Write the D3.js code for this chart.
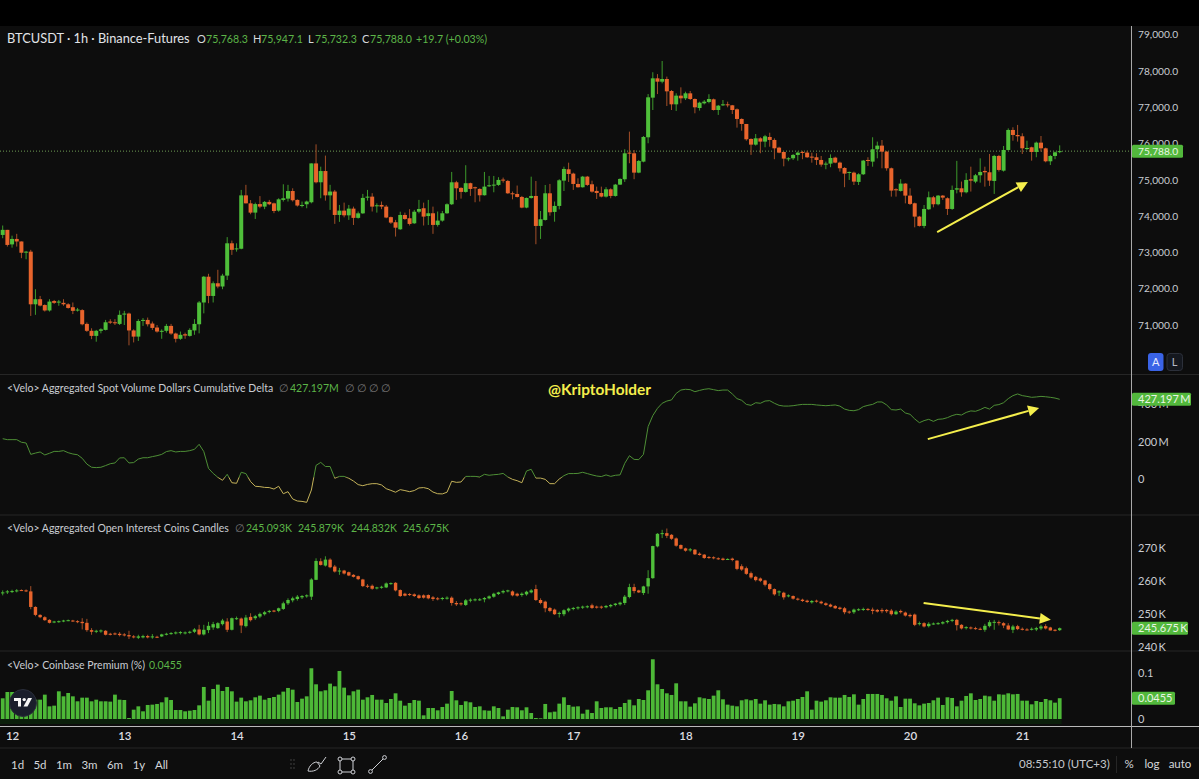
<!DOCTYPE html>
<html>
<head>
<meta charset="utf-8">
<script src="https://cdn.jsdelivr.net/npm/d3@7"></script>
<style>
  html, body { margin: 0; padding: 0; background: #000; overflow: hidden; }
  svg { display: block; }
  text { font-family: Lato, "Noto Sans", sans-serif; }
</style>
</head>
<body>
<svg id="chart" width="1199" height="779"></svg>
<script>
// BTCUSDT 1h candles, hour 0 is the candle left of the "12" date
const priceOpen = [
  73480,73620,73220,73370,73300,73000,73020,71570,71710,71550,
  71400,71660,71620,71610,71570,71490,71410,71410,71030,70840,
  70700,70840,70865,71095,71075,71030,71290,71315,70850,70680,
  71120,71140,71040,70930,70820,70840,70975,70765,70620,70745,
  70700,70850,71020,71620,72330,71800,72150,72060,72360,73250,
  73085,73100,74570,74350,74095,74330,74260,74390,74350,74150,
  74445,74480,74690,74445,74280,74325,74380,75450,74930,75240,
  74570,74675,74030,74150,74020,74205,73950,74075,74507,74535,
  74280,74306,74260,73970,73830,73636,74030,73940,73800,74120,
  74215,74000,74077,73756,73875,74077,74325,74930,74775,74665,
  74905,74793,74747,74573,74820,74838,74857,75004,74967,74627,
  74609,74526,74233,74499,74554,73728,73893,74627,74114,74279,
  74976,75288,75169,74884,74793,75086,74875,74692,74636,74536,
  74737,74554,74866,75013,75747,75728,75196,75499,76169,77261,
  77793,77701,77775,77444,77077,77316,77242,77380,77224,76976,
  77105,77142,77215,76921,77059,77077,77050,76940,76674,76536,
  76123,75967,76141,76050,76178,76096,75884,75765,75573,75591,
  75683,75765,75747,75637,75619,75545,75426,75444,75609,75472,
  75325,75196,75196,74940,75151,75545,75499,75839,75940,75774,
  75316,74738,74692,74894,74563,74352,73985,73728,74187,74517,
  74325,74563,74490,74196,74728,74765,74655,75013,74949,75123,
  75242,75206,74967,75655,75251,75820,76371,76233,76197,75848,
  75894,75765,76022,75866,75508,75655,75768.3
];
const priceHigh = [
  73740,73620,73460,73510,73300,73040,73070,71985,71800,71570,
  71710,71690,71690,71710,71600,71620,71470,71435,71070,70910,
  70865,70910,71140,71160,71160,71400,71390,71340,70880,71160,
  71190,71205,71095,71000,70880,71030,71030,70790,70820,70790,
  70910,71160,71660,72350,72410,72200,72520,72410,73420,73325,
  73250,74720,74860,74440,74370,74550,74415,74445,74370,74490,
  74875,74860,74765,74460,74400,74425,75450,75975,75360,75665,
  74860,74720,74306,74370,74306,74260,74125,74610,74720,74630,
  74350,74400,74306,73985,73895,74120,74095,74190,74170,74445,
  74370,74445,74260,74125,74140,74350,75215,74970,74795,75400,
  74920,74810,74765,75215,75105,75105,75070,75060,74995,74675,
  74840,74555,74510,75085,74965,74140,74855,74885,74400,75015,
  75360,75470,75195,75040,75105,75105,74975,74810,74810,74795,
  74765,74885,75040,75840,76325,75820,75545,76205,77360,77960,
  77910,78270,77840,77470,77380,77545,77425,77445,77240,77150,
  77195,77355,77235,77060,77195,77150,77060,76965,76690,76536,
  76140,76260,76170,76235,76295,76140,75910,75775,75620,75710,
  75775,75795,75800,75745,75730,75655,75500,75700,75635,75500,
  75345,75225,75225,75180,75545,75620,76170,76050,76095,75795,
  75335,74765,75015,74905,74765,74370,74005,74305,74675,74555,
  74580,74580,74515,74840,75520,74950,75180,75360,75160,75590,
  75360,75710,75685,75685,75930,76415,76445,76510,76280,76075,
  75910,76050,76205,75885,75685,75775,75947.1
];
const priceLow = [
  73390,73160,73130,73160,72840,72810,71250,71280,71510,71370,
  71370,71580,71530,71530,71450,71300,71370,70990,70810,70610,
  70540,70770,70850,71030,71000,71000,71000,70440,70520,70560,
  70975,70960,70865,70790,70620,70790,70730,70520,70590,70620,
  70680,70730,70770,71320,71600,71620,72010,71985,72240,72930,
  73020,73085,74350,74050,73920,74215,74190,74300,74080,74120,
  74400,74400,74400,74260,74240,74215,74350,74900,74490,74425,
  74170,73785,73840,73965,73895,73755,73930,74060,74425,74125,
  74095,74190,73940,73785,73435,73620,73895,73740,73785,74075,
  73740,73755,73510,73710,73845,74060,74305,74445,74480,74645,
  74555,74380,74400,74565,74800,74655,74830,74920,74610,74460,
  74510,74215,74215,74480,73225,73370,73875,74010,73845,74185,
  74690,74940,74720,74785,74785,74830,74645,74470,74515,74510,
  74490,74535,74855,74940,75455,75015,75180,75480,76005,76920,
  77360,77655,77030,76920,76895,77105,77195,77195,76830,76905,
  77075,77105,76905,76785,77030,76995,76810,76435,76350,76075,
  75685,75940,75730,75895,75910,75565,75730,75370,75510,75545,
  75525,75565,75600,75470,75405,75360,75290,75345,75455,75225,
  74795,74995,74855,74855,75130,75380,75360,75590,75315,75250,
  74535,74535,74675,74350,74305,73690,73710,73665,74170,74240,
  74295,74445,74030,74170,74625,74535,74625,74675,74905,74920,
  74810,74830,74610,75225,75225,75800,76075,76050,75710,75820,
  75525,75620,75775,75480,75405,75565,75732.3
];
const priceClose = [
  73620,73205,73370,73300,72990,73020,71570,71710,71535,71400,
  71645,71610,71645,71570,71470,71390,71425,71020,70840,70700,
  70840,70880,71075,71065,71050,71280,71315,70850,70680,71110,
  71140,71020,70920,70820,70840,70975,70765,70620,70730,70710,
  70865,71030,71620,72330,71800,72150,72060,72360,73250,73070,
  73110,74570,74350,74095,74330,74260,74390,74325,74140,74460,
  74490,74690,74435,74290,74306,74400,75450,74930,75240,74570,
  74675,74030,74150,74020,74205,73950,74075,74500,74535,74260,
  74297,74260,73960,73820,73680,74030,73920,73783,74120,74195,
  73985,74077,73756,73875,74077,74325,74930,74765,74665,74905,
  74747,74765,74573,74811,74848,74866,74995,74985,74627,74600,
  74526,74233,74499,74554,73728,73912,74627,74104,74279,74985,
  75297,75159,74884,74793,75086,74857,74673,74636,74536,74737,
  74554,74866,75022,75728,75728,75196,75517,76178,77270,77793,
  77701,77775,77435,77077,77316,77242,77380,77224,76995,77123,
  77151,77224,76921,77040,77077,77050,76921,76674,76536,76114,
  75967,76141,76050,76196,76096,75866,75747,75582,75591,75683,
  75747,75747,75619,75609,75545,75417,75444,75600,75472,75316,
  75169,75215,74949,75151,75527,75518,75839,75940,75774,75316,
  74701,74710,74894,74563,74334,73985,73728,74196,74517,74325,
  74563,74508,74196,74719,74765,74655,74995,74976,75123,75215,
  75206,74976,75655,75270,75820,76371,76233,76197,75866,75875,
  75765,76022,75866,75508,75655,75756,75788
];

// Spot volume cumulative delta, millions of dollars
const deltaValues = [
  216,211,211,211,197,193,132,139,145,129,
  138,148,148,152,141,134,130,111,80,63,
  61,63,72,82,86,113,114,86,88,107,
  114,114,120,125,132,147,152,145,148,148,
  152,159,186,147,57,30,9,-7,25,-20,
  -23,36,29,-14,-39,-41,-45,-46,-54,-39,
  -79,-68,-107,-118,-120,-125,-59,73,89,67,
  67,4,14,14,4,-11,-30,-36,-29,-25,
  -25,-32,-52,-61,-71,-57,-62,-68,-62,-48,
  -46,-52,-70,-79,-80,-71,-12,-18,-16,14,
  14,14,11,25,20,23,25,30,11,-2,
  -9,-20,43,52,5,5,-2,-25,-25,0,
  18,29,29,30,36,29,22,16,
  13,22,14,20,22,84,125,105,104,132,
  281,340,379,406,418,424,459,477,481,479,
  468,475,481,484,479,474,477,477,456,431,
  422,400,395,409,406,418,420,406,395,391,
  391,393,397,400,400,400,397,395,393,395,
  397,391,375,368,366,372,388,395,400,413,
  413,397,372,370,375,354,347,322,302,313,
  320,309,320,322,329,340,347,343,357,365,
  363,372,384,375,395,399,409,431,447,456,
  447,443,438,440,443,441,438,434,427.197
];

// Open interest candles, thousands of coins
const oiOpen = [
  256.3,256.6,256.7,256.9,257.2,257.1,256.8,252.1,249.7,249.0,
  248.2,247.5,247.6,247.8,248.0,248.0,247.8,247.6,247.3,245.1,
  244.6,244.7,244.9,244.0,244.1,244.0,243.8,243.6,243.2,242.8,
  242.9,243.3,243.0,243.1,243.2,243.8,244.0,244.2,244.3,244.2,
  244.4,244.6,245.3,243.8,245.1,245.9,245.7,246.9,247.7,245.2,
  248.5,248.6,246.3,249.1,248.7,249.2,249.9,250.6,251.0,250.9,
  251.5,253.2,254.1,254.5,255.0,255.4,255.2,260.3,265.9,264.6,
  266.4,264.3,262.8,263.1,262.6,261.8,261.4,260.4,258.5,258.5,
  257.7,257.9,258.0,259.1,259.4,257.2,256.1,256.0,255.9,255.6,
  255.6,255.7,255.0,254.7,254.6,254.7,254.9,253.3,253.2,252.7,
  254.0,254.1,254.2,254.4,254.7,255.2,256.0,256.5,256.8,256.8,
  256.1,255.7,255.9,256.5,257.5,254.2,253.7,251.8,251.3,250.0,
  249.9,251.0,251.5,251.7,251.9,252.1,252.6,252.2,252.2,252.0,
  252.3,252.7,252.9,253.3,255.1,258.1,257.1,256.3,258.3,260.8,
  270.4,274.1,274.4,273.9,272.8,270.8,269.8,269.2,269.4,268.2,
  267.9,267.2,267.1,266.8,266.7,266.4,266.7,266.1,264.4,263.8,
  262.3,261.2,260.7,260.1,259.0,257.5,256.5,256.4,255.3,255.4,
  254.6,254.3,254.0,253.5,254.0,253.7,253.2,252.8,252.4,251.9,
  251.7,250.7,250.5,251.2,251.3,251.5,251.3,251.2,251.2,251.2,
  251.0,249.9,250.9,250.4,249.7,249.8,246.9,247.2,246.3,246.9,
  247.0,247.1,247.5,247.9,248.2,246.7,245.7,245.9,245.7,245.5,
  245.2,246.3,247.4,247.5,247.2,246.5,245.2,246.3,245.5,245.3,
  245.2,245.3,245.6,246.3,245.9,245.2,245.093
];
const oiHigh = [
  257.1,257.2,257.3,257.5,257.4,257.4,258.4,252.3,249.9,249.3,
  248.4,247.9,248.0,248.2,248.3,248.2,248.1,248.7,248.5,245.7,
  245.2,245.3,245.1,244.3,244.4,244.5,244.2,244.9,243.6,243.7,
  243.7,243.7,243.9,243.4,244.0,244.3,244.5,244.7,244.8,244.7,
  244.9,245.7,246.7,246.7,247.6,247.6,247.5,248.5,248.7,248.9,
  249.2,248.9,249.7,250.2,249.7,250.4,250.9,251.2,251.2,251.9,
  253.7,254.7,255.2,255.7,255.7,255.9,260.8,266.8,266.8,267.4,
  266.8,264.8,263.9,263.3,262.8,262.0,261.6,260.6,259.0,258.9,
  258.2,258.5,259.5,259.5,259.6,257.4,256.4,256.3,256.2,255.9,
  255.9,255.9,255.4,255.1,255.1,255.3,255.3,253.9,253.5,254.5,
  254.7,254.7,254.8,255.1,255.6,256.4,256.7,257.3,257.3,257.1,
  256.4,256.5,257.0,257.5,258.8,254.7,254.0,252.1,251.6,250.7,
  251.4,251.9,252.1,252.3,252.5,252.6,253.1,252.5,252.5,252.7,
  253.0,253.3,253.7,255.7,259.1,259.1,257.3,258.5,263.2,270.6,
  274.4,275.4,275.8,274.1,273.1,271.0,270.0,269.9,269.6,268.6,
  268.1,267.5,267.4,267.1,267.0,266.8,267.0,266.2,265.0,264.3,
  262.8,261.5,261.0,260.3,259.3,257.7,257.1,256.7,255.9,255.6,
  254.9,254.6,254.3,254.2,254.3,254.0,253.5,253.1,252.7,252.2,
  252.1,251.0,251.6,251.7,251.9,251.8,251.9,251.5,251.7,251.5,
  251.5,251.1,251.3,250.7,250.1,250.1,247.7,247.5,247.5,247.4,
  247.5,247.8,248.2,248.5,248.5,246.9,246.3,246.2,246.1,245.9,
  247.0,248.1,248.2,248.0,247.5,247.2,246.7,246.7,245.9,245.7,
  245.9,246.1,246.7,246.9,246.1,245.4,245.879
];
const oiLow = [
  255.6,256.0,256.3,256.5,256.9,256.6,251.4,249.3,248.7,247.9,
  247.1,247.2,247.3,247.5,247.8,247.6,247.2,245.3,244.6,243.7,
  244.2,244.3,243.5,243.5,243.6,243.2,243.2,242.4,242.6,242.4,
  242.6,242.6,242.5,242.7,243.0,243.5,243.7,243.8,243.8,243.8,
  244.0,244.2,243.5,243.5,244.2,245.2,245.5,246.5,244.5,245.0,
  248.2,244.2,245.9,247.7,248.2,248.7,249.5,250.2,250.5,250.5,
  251.2,252.7,253.5,254.0,254.5,254.9,254.2,260.2,264.6,264.3,
  263.8,262.5,261.8,261.9,261.4,261.0,260.2,258.1,257.8,257.3,
  257.4,257.6,257.8,258.8,256.8,255.1,255.3,255.4,255.1,254.5,
  254.6,254.4,253.9,254.1,254.1,254.3,252.5,252.4,252.5,252.4,
  253.5,253.8,253.9,253.5,254.4,254.9,255.7,256.1,256.5,255.3,
  255.2,255.2,255.5,256.2,253.9,252.9,250.5,250.5,249.7,248.9,
  249.3,250.5,251.1,251.3,251.5,251.7,251.5,251.6,251.5,251.7,
  251.9,252.3,252.5,252.7,254.7,256.2,256.3,255.7,256.1,260.6,
  270.1,272.9,272.9,272.4,270.3,269.5,268.8,268.8,267.8,267.6,
  266.6,266.6,266.5,266.3,266.1,266.3,265.9,263.2,263.0,261.8,
  260.6,259.8,259.6,258.3,257.1,255.5,255.4,254.3,255.0,254.3,
  254.0,253.6,253.3,253.1,253.4,252.9,252.4,252.0,251.5,251.2,
  249.9,250.0,250.0,250.9,250.9,250.9,249.9,250.4,250.2,250.3,
  249.5,249.7,250.1,249.2,248.9,246.3,246.5,245.9,245.9,246.7,
  246.7,246.8,247.1,247.5,245.0,245.3,245.3,245.3,245.2,245.1,
  244.6,245.9,245.2,246.5,245.7,245.1,244.2,245.1,245.0,245.0,
  245.0,244.8,245.1,245.3,245.0,244.7,244.832
];
const oiClose = [
  256.5,256.8,256.9,257.1,257.0,256.8,252.1,249.7,249.0,248.1,
  247.3,247.7,247.8,248.0,248.1,247.8,247.5,247.2,245.1,244.6,
  244.9,245.0,243.7,243.7,243.8,243.6,243.5,243.2,242.9,243.2,
  243.3,242.9,243.2,242.9,243.8,244.0,244.2,244.4,244.5,244.4,
  244.6,245.3,243.8,245.2,246.4,246.9,247.2,248.0,245.2,248.7,
  248.7,246.5,248.9,248.1,249.3,250.0,250.5,250.9,250.8,251.7,
  253.2,254.2,254.7,255.2,255.4,255.6,260.4,266.0,264.8,266.4,
  264.1,262.8,263.1,262.2,261.6,261.2,260.5,258.4,258.2,257.6,
  258.0,258.2,259.2,259.3,257.1,255.4,255.5,255.7,255.4,254.8,
  254.9,254.7,254.5,254.5,254.8,254.9,253.3,252.9,252.9,254.1,
  254.3,254.4,254.4,254.8,255.3,256.1,256.5,256.9,257.1,255.6,
  255.5,256.1,256.7,257.1,254.2,253.3,251.7,250.9,249.9,250.3,
  251.1,251.6,251.8,252.0,252.2,252.3,251.8,251.9,251.9,252.4,
  252.7,253.1,253.4,255.2,258.1,256.9,256.5,258.3,260.8,270.5,
  274.2,274.4,273.6,272.7,270.6,269.7,269.1,269.5,268.0,267.8,
  266.9,266.9,266.8,266.5,266.3,266.6,266.3,263.6,263.4,262.1,
  261.0,260.2,260.0,258.8,257.5,255.9,256.8,255.0,255.6,254.6,
  254.3,253.9,253.6,253.9,253.7,253.2,252.7,252.2,251.7,251.5,
  250.5,250.4,251.3,251.4,251.5,251.2,250.9,250.7,250.8,250.8,
  249.9,250.7,250.5,249.5,249.3,246.7,247.2,246.2,247.0,247.1,
  247.2,247.5,247.9,248.2,246.6,245.6,246.0,245.6,245.4,245.3,
  246.4,247.5,247.6,247.2,246.5,245.3,246.2,245.4,245.2,245.1,
  245.5,245.7,246.2,245.6,245.0,244.9,245.675
];

// Coinbase premium, percent
const premiumValues = [
  .0453,.0591,.0591,.0496,.0496,.0438,.0423,.0423,.0423,.0533,
  .0277,.0292,.0606,.0496,.0569,.0496,.0387,.0467,.0467,.0387,
  .0423,.0387,.0387,.0380,.0533,.0423,.0416,.0022,.0204,.0277,
  .0168,.0307,.0314,.0329,.0365,.0475,.0416,.0197,.0197,.0168,
  .0182,.0197,.0299,.0701,.0401,.0657,.0752,.0613,.0701,.0606,
  .0380,.0467,.0387,.0409,.0475,.0511,.0423,.0460,.0482,.0533,
  .0599,.0679,.0642,.0372,.0445,.0496,.1110,.0759,.0606,.0628,
  .0774,.0715,.1051,.0686,.0518,.0606,.0642,.0423,.0475,.0526,
  .0423,.0423,.0350,.0438,.0562,.0401,.0292,.0350,.0416,.0401,
  .0080,.0241,.0241,.0190,.0263,.0336,.0613,.0409,.0307,.0387,
  .0365,.0263,.0277,.0190,.0182,.0277,.0241,.0058,.0204,.0263,
  .0256,.0190,.0256,.0131,.0022,.0015,.0329,.0146,.0161,.0336,
  .0475,.0307,.0270,.0277,.0117,.0204,.0131,.0387,
  .0241,.0256,.0256,.0219,.0263,.0350,.0423,.0299,.0438,.0416,
  .0628,.1307,.0759,.0657,.0562,.0526,.0781,.0387,.0387,.0270,
  .0343,.0475,.0453,.0438,.0511,.0628,.0431,.0314,.0292,.0277,
  .0409,.0431,.0409,.0438,.0336,.0409,.0314,.0329,.0321,.0277,
  .0387,.0401,.0438,.0482,.0606,.0204,.0401,.0380,.0409,.0475,
  .0467,.0467,.0526,.0482,.0540,.0314,.0438,.0548,.0548,.0548,
  .0526,.0453,.0401,.0496,.0263,.0445,.0445,.0343,.0299,.0336,
  .0350,.0409,.0467,.0307,.0475,.0460,.0277,.0401,.0504,.0562,
  .0416,.0438,.0511,.0496,.0401,.0540,.0533,.0562,.0540,.0548,
  .0401,.0401,.0321,.0394,.0372,.0438,.0409,.0358,.0455
];

const dayHours = [2, 26, 50, 74, 98, 122, 146, 170, 194, 218];
const dayLabels = ['12', '13', '14', '15', '16', '17', '18', '19', '20', '21'];
const priceTicks = [71000, 72000, 73000, 74000, 75000, 76000, 77000, 78000, 79000];
const deltaTicks = [0, 200, 400];
const oiTicks = [240, 250, 260, 270];
const premiumTicks = [0, 0.1];
const rangeButtons = ['1d', '5d', '1m', '3m', '6m', '1y', 'All'];

// Hand drawn arrows, [hour, value] start and end
const priceArrow = [[199.8, 73560], [219.2, 74940]];
const deltaArrow = [[197.8, 214], [221.6, 381]];
const oiArrow = [[196.9, 253.3], [224.1, 248.2]];

const green = '#4fbf3a';
const red = '#e8642c';
const greenWick = '#3d9a2c';
const redWick = '#a34f28';
const textColor = '#c9ccd2';
const valueGreen = '#5cb548';
const arrowYellow = '#f4ee4c';

const svg = d3.select('#chart');
const width = 1199;
const axisX = 1132;

// Scales
const x = d3.scaleLinear().domain([0, 226]).range([2.7, 1059.7]);
const yPrice = d3.scaleLinear().domain([71000, 79000]).range([325, 34.5]);
const yDelta = d3.scaleLinear().domain([0, 200]).range([479, 441.7]);
const yOi = d3.scaleLinear().domain([240, 270]).range([647, 547.7]);
const yPremium = d3.scaleLinear().domain([0, 0.1]).range([719, 673.3]);

// Background
svg.append('rect').attr('width', width).attr('height', 779).attr('fill', '#0d0d0d');
svg.append('rect').attr('width', width).attr('height', 26).attr('fill', '#000');

// Pane separators
[374.5, 515, 651, 748].forEach((sepY) => {
  svg.append('line')
    .attr('x1', 0).attr('x2', width)
    .attr('y1', sepY).attr('y2', sepY)
    .attr('stroke', '#262626');
});

// Last price line
svg.append('line')
  .attr('x1', 0).attr('x2', axisX)
  .attr('y1', yPrice(75788)).attr('y2', yPrice(75788))
  .attr('stroke', '#6f9c55')
  .attr('stroke-dasharray', '1,2');

function drawCandles(opens, highs, lows, closes, y, bodyWidth) {
  const g = svg.append('g');
  const idx = d3.range(opens.length);

  g.selectAll('.wick')
    .data(idx)
    .enter()
    .append('line')
    .attr('x1', (i) => x(i)).attr('x2', (i) => x(i))
    .attr('y1', (i) => y(highs[i])).attr('y2', (i) => y(lows[i]))
    .attr('stroke', (i) => closes[i] >= opens[i] ? greenWick : redWick);

  g.selectAll('.body')
    .data(idx)
    .enter()
    .append('rect')
    .attr('x', (i) => x(i) - bodyWidth / 2)
    .attr('y', (i) => y(Math.max(opens[i], closes[i])))
    .attr('width', bodyWidth)
    .attr('height', (i) => Math.max(1, Math.abs(y(opens[i]) - y(closes[i]))))
    .attr('fill', (i) => closes[i] >= opens[i] ? green : red);
}

drawCandles(priceOpen, priceHigh, priceLow, priceClose, yPrice, 4);
drawCandles(oiOpen, oiHigh, oiLow, oiClose, yOi, 3.4);

// Delta line, yellow under the threshold and green over it
const deltaSplit = 10;
const defs = svg.append('defs');
defs.append('clipPath').attr('id', 'delta-above')
  .append('rect').attr('x', 0).attr('y', 375).attr('width', width).attr('height', yDelta(deltaSplit) - 375);
defs.append('clipPath').attr('id', 'delta-below')
  .append('rect').attr('x', 0).attr('y', yDelta(deltaSplit)).attr('width', width).attr('height', 515 - yDelta(deltaSplit));

const deltaLine = d3.line().x((d, i) => x(i)).y((d) => yDelta(d));
[['delta-above', '#4e8f36'], ['delta-below', '#c4b25a']].forEach(([clip, color]) => {
  svg.append('path')
    .datum(deltaValues)
    .attr('clip-path', `url(#${clip})`)
    .attr('fill', 'none')
    .attr('stroke', color)
    .attr('stroke-width', 1)
    .attr('d', deltaLine);
});

// Premium histogram
svg.append('line')
  .attr('x1', 0).attr('x2', x(226) + 2)
  .attr('y1', yPremium(0) + 2.5).attr('y2', yPremium(0) + 2.5)
  .attr('stroke', '#0b1f0b')
  .attr('stroke-width', 5);

svg.append('g')
  .selectAll('rect')
  .data(premiumValues)
  .enter()
  .append('rect')
  .attr('x', (d, i) => x(i) - 1.9)
  .attr('y', (d) => yPremium(d))
  .attr('width', 3.8)
  .attr('height', (d) => yPremium(0) - yPremium(d))
  .attr('fill', '#4db837');

// Yellow arrows
function drawArrow(points, y) {
  const [x1, y1] = [x(points[0][0]), y(points[0][1])];
  const [x2, y2] = [x(points[1][0]), y(points[1][1])];
  const angle = Math.atan2(y2 - y1, x2 - x1);
  const headLen = 11;
  const headWide = 5.5;
  const baseX = x2 - headLen * Math.cos(angle);
  const baseY = y2 - headLen * Math.sin(angle);
  svg.append('line')
    .attr('x1', x1).attr('y1', y1)
    .attr('x2', baseX).attr('y2', baseY)
    .attr('stroke', arrowYellow)
    .attr('stroke-width', 2);
  svg.append('polygon')
    .attr('points', [
      [x2, y2],
      [baseX + headWide * Math.sin(angle), baseY - headWide * Math.cos(angle)],
      [baseX - headWide * Math.sin(angle), baseY + headWide * Math.cos(angle)]
    ].join(' '))
    .attr('fill', arrowYellow);
}
drawArrow(priceArrow, yPrice);
drawArrow(deltaArrow, yDelta);
drawArrow(oiArrow, yOi);

// Axes
function drawAxis(y, ticks, format, size) {
  const axis = svg.append('g')
    .attr('transform', `translate(${axisX},0)`)
    .call(d3.axisRight(y).tickValues(ticks).tickSize(0).tickPadding(6).tickFormat(format));
  axis.select('.domain').remove();
  axis.selectAll('text').attr('fill', textColor).style('font-size', size);
}
drawAxis(yPrice, priceTicks, d3.format(',.1f'), '10.2px');
drawAxis(yDelta, deltaTicks, (d) => d === 0 ? '0' : `${d}\u2009M`, '11px');
drawAxis(yOi, oiTicks, (d) => `${d}\u2009K`, '11px');
drawAxis(yPremium, premiumTicks, (d) => d === 0 ? '0' : d, '11px');

const timeAxis = svg.append('g')
  .attr('transform', 'translate(0,726)')
  .call(d3.axisBottom(x).tickValues(dayHours).tickSize(0).tickPadding(6).tickFormat((d, i) => dayLabels[i]));
timeAxis.select('.domain').remove();
timeAxis.selectAll('text').attr('fill', '#dcdee2').style('font-size', '11.5px').style('font-weight', 600);

// Axis frame lines
svg.append('line')
  .attr('x1', 0).attr('x2', width).attr('y1', 726.5).attr('y2', 726.5)
  .attr('stroke', '#b9b9b9');
svg.append('line')
  .attr('x1', axisX - 0.5).attr('x2', axisX - 0.5).attr('y1', 26).attr('y2', 748)
  .attr('stroke', '#a9a9a9');

// Last value badges
function drawBadge(label, y, w, size) {
  svg.append('rect')
    .attr('x', axisX).attr('y', y - 6.5)
    .attr('width', w).attr('height', 13)
    .attr('rx', 1.5)
    .attr('fill', '#52b83c');
  svg.append('text')
    .attr('x', axisX + 6).attr('y', y + 4)
    .attr('fill', '#e9f6e4')
    .style('font-size', size)
    .text(label);
}
drawBadge('75,788.0', yPrice(75788), 51, '10.2px');
drawBadge('427.197\u2009M', yDelta(427.197), 59, '11px');
drawBadge('245.675\u2009K', yOi(245.675), 56, '11px');
drawBadge('0.0455', yPremium(0.0455), 43, '11px');

// Pane legends
function legend(y, parts) {
  const t = svg.append('text').attr('y', y).style('font-size', '10.5px');
  parts.forEach(([label, color, px, size]) => {
    const span = t.append('tspan').attr('x', px).attr('fill', color).text(label);
    if (size) span.style('font-size', size);
  });
}
legend(43, [
  ['BTCUSDT \u00b7 1h \u00b7 Binance-Futures', '#e2e4e8', 7, '12.8px'],
  ['O', '#d5d7db', 197, '11px'], ['75,768.3', valueGreen, 206, '10.6px'],
  ['H', '#d5d7db', 253, '11px'], ['75,947.1', valueGreen, 261, '10.6px'],
  ['L', '#d5d7db', 308, '11px'], ['75,732.3', valueGreen, 315, '10.6px'],
  ['C', '#d5d7db', 362, '11px'], ['75,788.0', valueGreen, 370, '10.6px'],
  ['+19.7 (+0.03%)', valueGreen, 416, '10.6px']
]);
legend(392, [
  ['<Velo> Aggregated Spot Volume Dollars Cumulative Delta', textColor, 7],
  ['\u2205', '#777', 279], ['427.197M', valueGreen, 290],
  ['\u2205', '#777', 345], ['\u2205', '#777', 357], ['\u2205', '#777', 369], ['\u2205', '#777', 381]
]);
legend(532, [
  ['<Velo> Aggregated Open Interest Coins Candles', textColor, 7],
  ['\u2205', '#777', 235], ['245.093K', valueGreen, 246], ['245.879K', valueGreen, 298],
  ['244.832K', valueGreen, 351], ['245.675K', valueGreen, 403]
]);
legend(669, [
  ['<Velo> Coinbase Premium (%)', textColor, 7],
  ['0.0455', valueGreen, 149]
]);

// Watermark
svg.append('text')
  .attr('x', 548).attr('y', 395)
  .attr('fill', arrowYellow)
  .style('font-size', '15.4px')
  .style('font-weight', 700)
  .text('@KriptoHolder');

// A and L buttons
svg.append('rect').attr('x', 1148).attr('y', 353).attr('width', 15.5).attr('height', 18).attr('rx', 3).attr('fill', '#3a63e6');
svg.append('text').attr('x', 1155.7).attr('y', 366).attr('text-anchor', 'middle').attr('fill', '#e8ecff').style('font-size', '11px').text('A');
svg.append('rect').attr('x', 1167).attr('y', 353.5).attr('width', 15.5).attr('height', 17).attr('rx', 3).attr('fill', '#15181f').attr('stroke', '#2c303a');
svg.append('text').attr('x', 1174.7).attr('y', 366).attr('text-anchor', 'middle').attr('fill', '#b5b9c4').style('font-size', '11px').text('L');

// TradingView badge
const tvLogo = svg.append('g').attr('transform', 'translate(23,703)');
tvLogo.append('circle').attr('r', 13.5).attr('fill', '#1a1e2b').attr('stroke', '#2a2e3a');
tvLogo.append('path').attr('d', 'M-9,-5 H-2 V3.5 H-5 V-2 H-9 Z').attr('fill', '#f5f5f5');
tvLogo.append('circle').attr('cx', 1.2).attr('cy', -3.4).attr('r', 1.7).attr('fill', '#f5f5f5');
tvLogo.append('path').attr('d', 'M5,-5 H9 L4.5,3.5 H0.5 Z').attr('fill', '#f5f5f5');

// Bottom toolbar
const rangeX = [17.6, 40, 64, 89.5, 115, 139, 161.5];
svg.append('g')
  .selectAll('text')
  .data(rangeButtons)
  .enter()
  .append('text')
  .attr('x', (d, i) => rangeX[i])
  .attr('y', 769)
  .attr('text-anchor', 'middle')
  .attr('fill', '#d4d6da')
  .style('font-size', '11.5px')
  .text((d) => d);

// Drawing tool icons
const tools = svg.append('g').attr('fill', 'none').attr('stroke', '#cfd1d6').attr('stroke-width', 1);
[[291, 760], [294, 760], [291, 764], [294, 764], [291, 768], [294, 768]].forEach(([dx, dy]) => {
  tools.append('circle').attr('cx', dx).attr('cy', dy).attr('r', 0.4).attr('stroke', '#444');
});
tools.append('path').attr('d', 'M308,771 C309,766 313,762 317,762 L320,766 C318,770 313,772 308,771 Z M318,762 L321,764 L326,757');
tools.append('rect').attr('x', 340).attr('y', 759).attr('width', 13).attr('height', 13);
[[340, 759], [353, 759], [340, 772], [353, 772]].forEach(([cx, cy]) => {
  tools.append('circle').attr('cx', cx).attr('cy', cy).attr('r', 2).attr('fill', '#0d0d0d');
});
tools.append('line').attr('x1', 371).attr('y1', 771).attr('x2', 384).attr('y2', 758);
tools.append('circle').attr('cx', 370.5).attr('cy', 771.5).attr('r', 1.9).attr('fill', '#0d0d0d');
tools.append('circle').attr('cx', 384.5).attr('cy', 757.5).attr('r', 1.9).attr('fill', '#0d0d0d');

svg.append('text').attr('x', 1019).attr('y', 768).attr('fill', '#c6c8cc').style('font-size', '11.5px').text('08:55:10 (UTC+3)');
svg.append('line').attr('x1', 1116.5).attr('x2', 1116.5).attr('y1', 756).attr('y2', 773).attr('stroke', '#262626');
[['%', 1129], ['log', 1152], ['auto', 1180]].forEach(([label, px]) => {
  svg.append('text').attr('x', px).attr('y', 768).attr('text-anchor', 'middle').attr('fill', '#d4d6da').style('font-size', '11.5px').text(label);
});
</script>
</body>
</html>
